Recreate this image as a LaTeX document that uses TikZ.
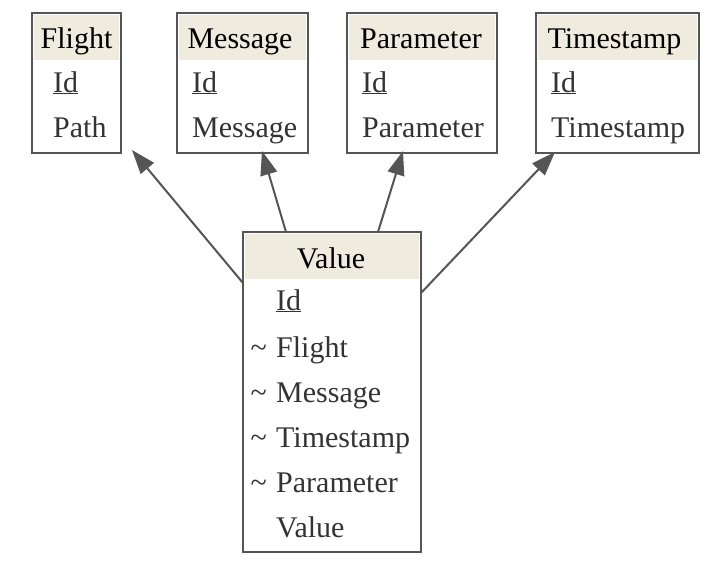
\documentclass[tikz,border=0pt]{standalone}
\usepackage{fontspec}
\setmainfont{Liberation Serif}
\usepackage{xcolor}
\usetikzlibrary{shapes,arrows.meta,positioning,calc}
\definecolor{edgegray}{RGB}{85,85,85}
\definecolor{headbeige}{RGB}{239,235,223}
\definecolor{textgray}{RGB}{51,51,51}

\begin{document}
\begin{tikzpicture}[x=1pt,y=-1pt,
    tbl/.style={draw=edgegray,line width=2pt,inner sep=0pt,outer sep=0pt,minimum height=140pt},
    hdr/.style={anchor=base,inner sep=0pt,font=\fontsize{30}{36}\selectfont,text=black},
    fld/.style={anchor=base west,inner sep=0pt,font=\fontsize{30}{36}\selectfont,text=textgray},
    link/.style={draw=edgegray,line width=2pt,-{Triangle[length=24pt,width=17pt]}}]
    \useasboundingbox (0,0) rectangle (713,571);

    % Tables
    \node[tbl,minimum width=89pt] (flight) at (76.5,83) {};
    \node[tbl,minimum width=131pt] (message) at (242.5,83) {};
    \node[tbl,minimum width=150pt] (parameter) at (422,83) {};
    \node[tbl,minimum width=163pt] (timestamp) at (617.5,83) {};
    \node[tbl,minimum width=178pt,minimum height=320pt] (value) at (332,392) {};

    % Header bands
    \foreach \t in {flight,message,parameter,timestamp,value}
        \fill[headbeige] ([shift={(2,2)}]\t.north west) rectangle ([shift={(-2,47)}]\t.north east);

    % Headers
    \node[hdr] (flighthd) at (76.5,48) {Flight};
    \node[hdr] (messagehd) at (240,48) {Message};
    \node[hdr] (parameterhd) at (421,48) {Parameter};
    \node[hdr] (timestamphd) at (614.5,48) {Timestamp};
    \node[hdr] (valuehd) at (331,268) {Value};

    % Fields of Flight, Message, Parameter, Timestamp
    \node[fld] (flightid) at (53,92) {\underline{Id}};
    \node[fld] (flightpath) at (53,137) {Path};
    \node[fld] (messageid) at (192,92) {\underline{Id}};
    \node[fld] (messagemsg) at (192,137) {Message};
    \node[fld] (parameterid) at (362,92) {\underline{Id}};
    \node[fld] (parameterpar) at (362,137) {Parameter};
    \node[fld] (timestampid) at (551,92) {\underline{Id}};
    \node[fld] (timestampts) at (551,137) {Timestamp};

    % Fields of Value
    \node[fld] (valueid) at (276,310) {\underline{Id}};
    \node[fld] (valueflight) at (276,357) {Flight};
    \node[fld] (valuemsg) at (276,402) {Message};
    \node[fld] (valuets) at (276,447) {Timestamp};
    \node[fld] (valuepar) at (276,492) {Parameter};
    \node[fld] (valueval) at (276,537) {Value};
    \foreach \r in {valueflight,valuemsg,valuets,valuepar}
        \node[fld,anchor=base east] (\r tl) at ([xshift=-9pt]\r.base west) {\textasciitilde};

    % References
    \draw[link] ([shift={(0,51)}]value.north west) -- ([shift={(11,-3)}]flight.south east);
    \draw[link] ([shift={(43,0)}]value.north west) -- ([shift={(19.5,-2)}]message.south);
    \draw[link] ([shift={(-43,0)}]value.north east) -- ([shift={(-19,-2)}]parameter.south);
    \draw[link] ([shift={(0,61)}]value.north east) -- ([shift={(19,-1)}]timestamp.south west);
\end{tikzpicture}
\end{document}
